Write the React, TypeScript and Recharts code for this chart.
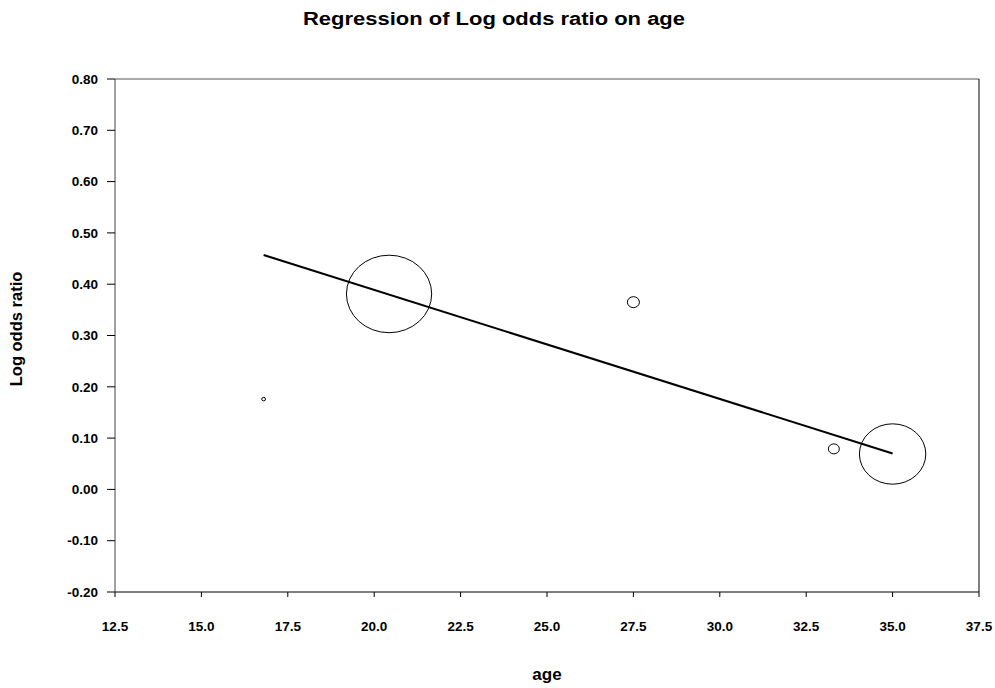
import React from 'react';
import {
  ScatterChart,
  Scatter,
  XAxis,
  YAxis,
  ZAxis,
  ReferenceLine,
  Label,
} from 'recharts';

const ages = [16.8, 20.43, 27.5, 33.3, 35.0];
const logOddsRatios = [0.176, 0.381, 0.365, 0.079, 0.069];
const weights = [3, 1500, 30, 25, 910];

const fitAges = [16.8, 35.0];
const fitValues = [0.457, 0.07];

const xTicks = [12.5, 15, 17.5, 20, 22.5, 25, 27.5, 30, 32.5, 35, 37.5];
const yTicks = [-0.2, -0.1, 0, 0.1, 0.2, 0.3, 0.4, 0.5, 0.6, 0.7, 0.8];

const title = 'Regression of Log odds ratio on age';
const xTitle = 'age';
const yTitle = 'Log odds ratio';

const points = ages.map((a, i) => ({ age: a, lor: logOddsRatios[i], w: weights[i] }));
const fitLine = fitAges.map((a, i) => ({ age: a, lor: fitValues[i] }));

const FONT = '"Liberation Sans", Arial, sans-serif';
const maxW = Math.max(...weights);
const MAX_R = 38.75;

const EllipseShape = (props: any) => {
  const { cx, cy } = props;
  const size = props.size;
  let r = size != null ? Math.sqrt(size / Math.PI) : (props.width || 4) / 2;
  if (!isFinite(r) || r < 1.6) r = 1.6;
  return (
    <ellipse cx={cx} cy={cy} rx={r * 1.1} ry={r} fill="none" stroke="#000" strokeWidth={1} />
  );
};

const tickStyle = { fill: '#000', fontSize: 13.5, fontWeight: 'bold', fontFamily: FONT };

export default function App() {
  return (
    <div style={{ width: 995, height: 688, background: '#fff' }}>
      <style>{`body{margin:0;}`}</style>
      <ScatterChart
        width={995}
        height={688}
        margin={{ top: 79, right: 16, bottom: 0, left: 0 }}
      >
        <XAxis
          type="number"
          dataKey="age"
          domain={[12.5, 37.5]}
          ticks={xTicks}
          allowDataOverflow
          tickFormatter={(v: number) => v.toFixed(1)}
          height={96}
          tickSize={5}
          tickMargin={24.5}
          stroke="#000"
          axisLine={{ stroke: '#000' }}
          tickLine={{ stroke: '#000' }}
          tick={tickStyle}
        >
          <Label
            content={(p: any) => {
              const vb = p.viewBox || {};
              return (
                <text
                  x={vb.x + vb.width / 2}
                  y={vb.y + 87.5}
                  textAnchor="middle"
                  fontFamily={FONT}
                  fontWeight="bold"
                  fontSize={17}
                  fill="#000"
                >
                  {xTitle}
                </text>
              );
            }}
          />
        </XAxis>
        <YAxis
          type="number"
          dataKey="lor"
          domain={[-0.2, 0.8]}
          ticks={yTicks}
          allowDataOverflow
          tickFormatter={(v: number) => v.toFixed(2)}
          width={115}
          tickSize={8}
          tickMargin={9}
          axisLine={{ stroke: '#444' }}
          tickLine={{ stroke: '#000' }}
          tick={tickStyle}
        >
          <Label
            content={() => {
              const cy = 329;
              const cx = 22;
              return (
                <text
                  x={cx}
                  y={cy}
                  transform={`rotate(-90 ${cx} ${cy})`}
                  textAnchor="middle"
                  fontFamily={FONT}
                  fontWeight="bold"
                  fontSize={16.5}
                  fill="#000"
                >
                  {yTitle}
                </text>
              );
            }}
          />
        </YAxis>
        <ZAxis type="number" dataKey="w" domain={[0, maxW]} range={[0, Math.PI * MAX_R * MAX_R]} />
        <ReferenceLine
          y={0.8}
          stroke="#555"
          strokeWidth={1}
          label={{
            content: () => (
              <text
                x={303}
                y={25}
                textAnchor="start"
                textLength={382}
                lengthAdjust="spacingAndGlyphs"
                fontFamily={FONT}
                fontWeight="bold"
                fontSize={18}
                fill="#000"
              >
                {title}
              </text>
            ),
          }}
        />
        <ReferenceLine x={37.5} stroke="#000" strokeWidth={1} />
        <Scatter
          data={points}
          shape={EllipseShape}
          isAnimationActive={false}
        />
        <Scatter
          data={fitLine}
          line={{ stroke: '#000', strokeWidth: 2 }}
          shape={() => <g />}
          isAnimationActive={false}
        />
      </ScatterChart>
    </div>
  );
}
